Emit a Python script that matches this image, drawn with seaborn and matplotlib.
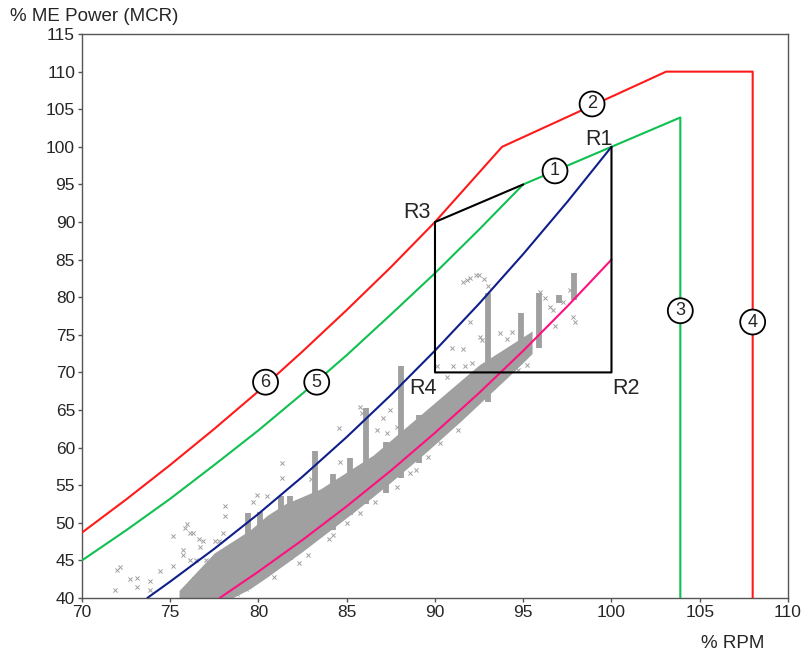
import matplotlib
matplotlib.use("Agg")
import matplotlib.pyplot as plt
import seaborn as sns
import pandas as pd

# limit curves
red_x = [70, 72.5, 75, 77.5, 80, 82.5, 85, 87.5, 90, 93.8, 103.1, 108, 108]
red_y = [48.7, 53.1, 57.7, 62.5, 67.5, 72.8, 78.3, 84.0, 90, 100, 110, 110, 40]
green_x = [70, 72.5, 75, 77.5, 80, 82.5, 85, 87.5, 90, 92.5, 95, 100, 103.9, 103.9]
green_y = [45, 49.0, 53.2, 57.7, 62.3, 67.2, 72.3, 77.7, 83.2, 89.0, 95, 100, 103.9, 40]
blue_x = [73.7, 75, 77.5, 80, 82.5, 85, 87.5, 90, 92.5, 95, 97.5, 100]
blue_y = [40.0, 42.19, 46.55, 51.2, 56.15, 61.41, 66.99, 72.9, 79.14, 85.74, 92.69, 100]
pink_x = [77.8, 80, 82.5, 85, 87.5, 90, 92.5, 95, 97.5, 100]
pink_y = [40.0, 43.52, 47.73, 52.2, 56.94, 61.97, 67.27, 72.88, 78.79, 85]
box_x = [95, 90, 90, 100, 100]
box_y = [95, 90, 70, 70, 100]

# service data: dense band, vertical streaks, loose points
band_x = [75.5, 76.5, 77.5, 78.5, 79.5, 80.5, 81.5, 82.5, 83.5, 84.5, 85.5, 86.5, 87.5, 88.5, 89.5, 90.5, 91.5, 92.5, 93.5, 94.5, 95.5]
band_lo = [40, 40, 40, 40, 41.2, 42.8, 44.5, 46.2, 48, 49.8, 51.6, 53.5, 55.4, 57.4, 59.4, 61.5, 63.6, 65.8, 68, 70.2, 72.5]
band_hi = [41, 43.5, 46, 47.5, 49, 51, 52.5, 53.5, 54.5, 56, 57.5, 59, 61, 63, 65, 67, 69, 71, 72.5, 74, 75.5]
streak_x = [76.4, 77.6, 78.6, 79.4, 80.1, 80.8, 81.3, 81.8, 83.2, 84.2, 85.2, 86.1, 87.2, 88.1, 89.1, 93.0, 94.9, 95.9, 97.0, 97.9]
streak_lo = [40, 40, 41, 42, 43, 44, 45, 45, 48, 49, 51, 52.5, 54, 56, 58, 66, 71.6, 73.2, 79.2, 79.6]
streak_hi = [42.8, 45, 46.8, 51.3, 51.5, 51, 53.5, 53.5, 59.5, 56.5, 58.6, 65.3, 60.7, 70.8, 64.3, 80.5, 77.9, 80.6, 80.3, 83.2]
pts_x = [71.97, 72.15, 72.72, 73.10, 71.87, 73.10, 73.85, 73.85, 74.42, 75.17, 75.74, 75.74,
         75.14, 75.84, 75.97, 76.12, 76.31, 76.65, 76.69, 76.87, 76.12, 76.46, 77.97, 77.54,
         77.78, 78.12, 78.12, 77.0, 77.25, 79.9, 79.7, 80.46,
         81.31, 81.35, 84.58, 84.62, 85.85, 87.07, 86.69, 87.26, 87.45, 87.83, 85.75, 84.15,
         82.82, 84.24, 85.75, 87.83, 88.58,
         90.95, 91.61, 91.98, 92.55, 92.65, 93.68, 94.06, 94.35, 91.70, 92.08, 96.52, 96.70,
         97.27, 97.65, 97.84, 97.93, 96.23, 95.95, 90.10, 91.04, 90.66, 92.17, 93.87, 94.72, 93.30,
         91.6, 91.8, 92.0, 92.3, 92.5, 92.8, 93.0,
         78.8, 79.3, 80.9, 82.3, 83.0, 84.0, 85.0, 86.6, 88.9, 89.6, 90.3, 91.3, 95.2, 96.8]
pts_y = [43.7, 44.1, 42.5, 42.6, 41.1, 41.5, 42.2, 41.1, 43.6, 44.2, 46.4, 45.7,
         48.2, 49.3, 49.8, 48.6, 48.6, 47.8, 46.8, 47.6, 45.0, 45.0, 48.6, 47.6,
         47.6, 50.9, 52.2, 45.1, 44.6, 53.7, 52.8, 53.5,
         58.0, 55.9, 62.6, 58.1, 64.6, 63.9, 62.3, 61.9, 65.0, 62.8, 65.4, 53.5,
         45.7, 48.4, 51.3, 54.8, 56.6,
         73.3, 73.1, 76.7, 74.7, 74.3, 75.2, 74.5, 75.4, 70.8, 71.2, 78.7, 78.3,
         79.4, 81.0, 77.4, 76.7, 79.9, 80.7, 70.8, 70.8, 69.4, 69.2, 69.9, 70.3, 68.1,
         82.0, 82.3, 82.6, 83.0, 82.9, 82.4, 81.5,
         40.5, 41.2, 42.8, 44.6, 55.8, 47.9, 50.0, 52.8, 57.0, 58.8, 60.6, 62.4, 71.0, 76.2]

x_ticks = list(range(70, 111, 5))
y_ticks = list(range(40, 116, 5))

sns.set_style("white")
plt.rcParams["font.family"] = ["Liberation Sans", "DejaVu Sans"]

fig = plt.figure(figsize=(8.03, 6.57), dpi=100)
ax = fig.add_axes([0.1021, 0.0898, 0.8792, 0.8584])

gray = "#a0a0a0"
ax.fill_between(band_x, band_lo, band_hi, color=gray, lw=0, zorder=1)
ax.vlines(streak_x, streak_lo, streak_hi, color=gray, lw=4.2, zorder=1)
sns.scatterplot(x=pts_x, y=pts_y, marker="x", s=9, color=gray, linewidth=0.7, ax=ax, zorder=1)

def curve(xs, ys, color):
    df = pd.DataFrame({"x": xs, "y": ys})
    sns.lineplot(data=df, x="x", y="y", color=color, lw=1.5, sort=False, estimator=None, ax=ax, zorder=3)

curve(red_x, red_y, "#ff1a1a")
curve(green_x, green_y, "#10c050")
curve(blue_x, blue_y, "#0f1f8a")
curve(pink_x, pink_y, "#ff1080")
curve(box_x, box_y, "black")

circ = dict(boxstyle="circle,pad=0.22", fc="white", ec="black", lw=1.3)
for txt, cx, cy in [("1", 96.8, 96.8), ("2", 98.9, 105.7), ("3", 103.9, 78.2),
                    ("4", 108, 76.7), ("5", 83.3, 68.7), ("6", 80.4, 68.7)]:
    ax.text(cx, cy, txt, fontsize=13, ha="center", va="center", bbox=circ, zorder=5)

for txt, cx, cy in [("R1", 99.3, 101.0), ("R2", 100.8, 67.9), ("R3", 89.0, 91.2), ("R4", 89.3, 67.8)]:
    ax.text(cx, cy, txt, fontsize=15.5, ha="center", va="center", zorder=5)

ax.set_xlim(70, 110)
ax.set_ylim(40, 115)
ax.set_xticks(x_ticks)
ax.set_yticks(y_ticks)
ax.tick_params(direction="out", length=3, width=1, color="#555555", labelsize=12.5, pad=2, bottom=True, left=True)
for s in ax.spines.values():
    s.set_color("#555555")
    s.set_linewidth(1)
ax.set_xlabel("")
ax.set_ylabel("")

fig.text(0.012, 0.975, "% ME Power (MCR)", fontsize=13.5, ha="left", va="center")
fig.text(0.952, 0.021, "% RPM", fontsize=13.5, ha="right", va="center")

fig.savefig("out.png", dpi=100)
